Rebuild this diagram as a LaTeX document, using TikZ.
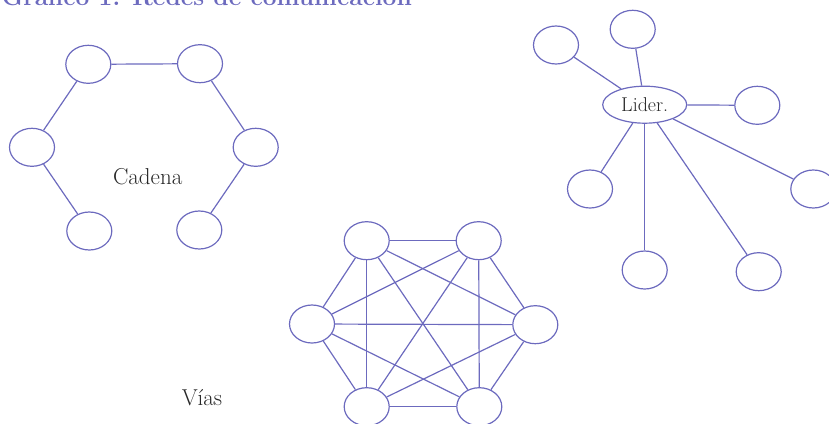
\documentclass[tikz,border=0pt]{standalone}
\usetikzlibrary{shapes.geometric}
\definecolor{net}{RGB}{108,106,190}
\definecolor{txt}{RGB}{40,40,40}
\begin{document}
\begin{tikzpicture}[x=1pt,y=-1pt,
  nd/.style={ellipse,draw=net,line width=1.2pt,minimum width=45pt,minimum height=38pt,inner sep=0pt},
  ln/.style={draw=net,line width=1.2pt},
  lbl/.style={font=\fontsize{23}{26}\selectfont,text=txt,inner sep=0pt}]
\useasboundingbox (0,0) rectangle (829,423);
\clip (0,0) rectangle (829,423);
\node[anchor=base east,text=net,inner sep=0pt,font=\bfseries\fontsize{24.5}{28}\selectfont] (title) at (412,5.5) {Gráfico 1. Redes de comunicación};
% Cadena
\node[nd] (c1) at (88.3,64.3) {};
\node[nd] (c2) at (200,63.7) {};
\node[nd] (c3) at (32,147.3) {};
\node[nd] (c4) at (255.7,147.3) {};
\node[nd] (c5) at (89.3,231) {};
\node[nd] (c6) at (199.3,230) {};
\node[lbl,anchor=base] (cad) at (147.7,184) {Cadena};
\draw[ln] (c1) -- (c2);
\draw[ln] (c1) -- (c3);
\draw[ln] (c3) -- (c5);
\draw[ln] (c2) -- (c4);
\draw[ln] (c4) -- (c6);
% Lider
\node[nd,minimum width=84pt,minimum height=37pt,font=\fontsize{20}{24}\selectfont,text=txt] (L) at (644.7,104.7) {Lider.};
\node[nd] (s1) at (556,45) {};
\node[nd] (s2) at (632.7,29.3) {};
\node[nd] (s3) at (757.3,105.3) {};
\node[nd] (s4) at (590,189) {};
\node[nd] (s5) at (813.3,189) {};
\node[nd] (s6) at (644.7,270) {};
\node[nd] (s7) at (758.7,271.7) {};
\foreach \s in {s1,s2,s3,s4,s5,s6,s7} \draw[ln] (L) -- (\s);
% Vias
\node[nd] (v1) at (366.7,240.7) {};
\node[nd] (v2) at (478.7,240.7) {};
\node[nd] (v3) at (312,324) {};
\node[nd] (v4) at (535.3,324.7) {};
\node[nd] (v5) at (366.7,406.7) {};
\node[nd] (v6) at (479.3,406.7) {};
\foreach \a/\b in {v1/v2,v1/v3,v1/v4,v1/v5,v1/v6,v2/v3,v2/v4,v2/v5,v2/v6,v3/v4,v3/v5,v3/v6,v4/v5,v4/v6,v5/v6}
  \draw[ln] (\a) -- (\b);
\node[lbl,anchor=base] (vias) at (202,405) {Vías};
\end{tikzpicture}
\end{document}
